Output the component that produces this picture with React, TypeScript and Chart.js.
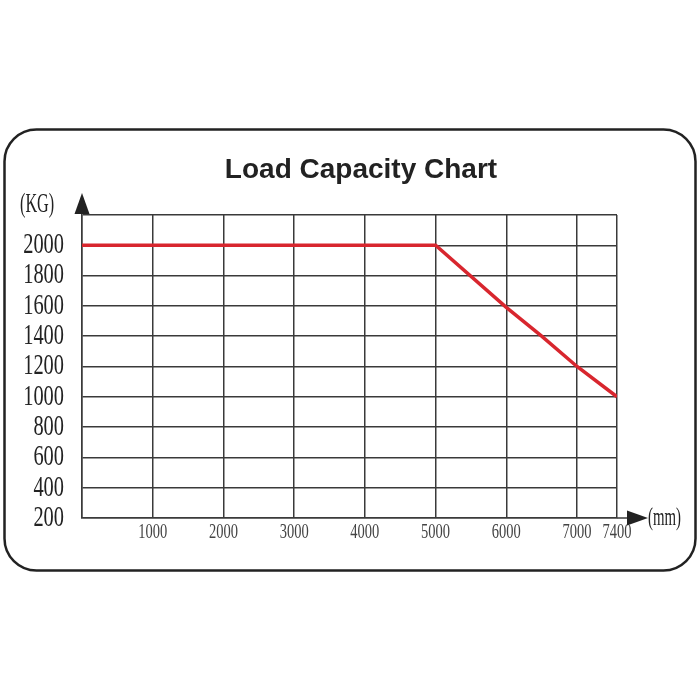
import { useEffect, useRef } from 'react';
import { Chart, registerables, LinearScale } from 'chart.js';

// ---- data ----
const TITLE = 'Load Capacity Chart';
const Y_UNIT = '(KG)';
const X_UNIT = '(mm)';
const REACH_MM = [0, 5000, 6000, 6500, 7000, 7400];
const CAPACITY_KG = [2000, 2000, 1590, 1400, 1200, 1000];
const X_TICKS = [0, 1000, 2000, 3000, 4000, 5000, 6000, 7000, 7400];
const X_TICK_LABELS = ['', '1000', '2000', '3000', '4000', '5000', '6000', '7000', '7400'];
const Y_TICKS = [200, 400, 600, 800, 1000, 1200, 1400, 1600, 1800, 2000, 2200];
const Y_TICK_LABELS = ['200', '400', '600', '800', '1000', '1200', '1400', '1600', '1800', '2000', ''];

// ---- styles ----
const GRID = '#3a3a3a';
const LINE_RED = '#d8262e';
const SERIF = '"Liberation Serif", "Times New Roman", serif';
const SANS = '"Liberation Sans", Arial, sans-serif';
const CONDENSE: Record<string, number> = { x: 0.69, y: 0.68 };
// the drawing widens the last (7000-7400) interval of the reach axis
const X_BREAK = 7000;
const X_STRETCH = 1.414;
const warp = (v: number) => (v <= X_BREAK ? v : X_BREAK + (v - X_BREAK) * X_STRETCH);
const unwarp = (u: number) => (u <= X_BREAK ? u : X_BREAK + (u - X_BREAK) / X_STRETCH);

const Base: any = LinearScale;

class CondensedLinearScale extends Base {
  static id = 'condensedLinear';
  static defaults = Base.defaults;
  drawLabels(chartArea: any) {
    const self: any = this;
    const optTicks = self.options.ticks;
    if (!optTicks.display) return;
    const ctx = self.ctx;
    const sx = CONDENSE[self.axis] ?? 1;
    const items = self.getLabelItems(chartArea);
    for (const item of items) {
      const o = item.options;
      ctx.save();
      ctx.translate(o.translation[0], o.translation[1]);
      ctx.rotate(o.rotation || 0);
      ctx.scale(sx, 1);
      ctx.font = item.font.string;
      ctx.fillStyle = o.color;
      ctx.textAlign = o.textAlign;
      ctx.textBaseline = o.textBaseline;
      ctx.fillText(String(item.label), 0, item.textOffset);
      ctx.restore();
    }
  }
}

class WarpedLinearScale extends CondensedLinearScale {
  static id = 'warpedLinear';
  static defaults = Base.defaults;
  configure() {
    super.configure();
    const self: any = this;
    self._endValue = warp(self.max);
    self._valueRange = self._endValue - self._startValue;
  }
  getPixelForValue(value: any) {
    const self: any = this;
    if (value === null || value === undefined) return NaN;
    return self.getPixelForDecimal((warp(value) - self._startValue) / self._valueRange);
  }
  getValueForPixel(pixel: number) {
    const self: any = this;
    return unwarp(self._startValue + self.getDecimalForPixel(pixel) * self._valueRange);
  }
}

Chart.register(...registerables, CondensedLinearScale as any, WarpedLinearScale as any);

function condensedText(ctx: CanvasRenderingContext2D, text: string, x: number, y: number, font: string, sx: number) {
  ctx.save();
  ctx.translate(x, y);
  ctx.scale(sx, 1);
  ctx.font = font;
  ctx.textAlign = 'left';
  ctx.textBaseline = 'middle';
  ctx.fillText(text, 0, 0);
  ctx.restore();
}

const decor = {
  id: 'decor',
  beforeDraw(chart: any) {
    const ctx = chart.ctx;
    ctx.save();
    ctx.fillStyle = '#ffffff';
    ctx.fillRect(0, 0, chart.width, chart.height);
    ctx.beginPath();
    ctx.roundRect(4.5, 129.5, 691, 441, 32);
    ctx.lineWidth = 2.5;
    ctx.strokeStyle = '#222';
    ctx.stroke();
    ctx.restore();
  },
  afterDraw(chart: any) {
    const ctx = chart.ctx;
    const a = chart.chartArea;
    ctx.save();
    ctx.fillStyle = '#222';
    ctx.font = `bold 28px ${SANS}`;
    ctx.textAlign = 'center';
    ctx.textBaseline = 'alphabetic';
    ctx.fillText(TITLE, 361, 178);

    // y axis arrow
    ctx.beginPath();
    ctx.moveTo(a.left, a.top - 22);
    ctx.lineTo(a.left - 7.5, a.top - 1);
    ctx.lineTo(a.left + 7.5, a.top - 1);
    ctx.closePath();
    ctx.fill();

    // x axis extension and arrow
    ctx.strokeStyle = GRID;
    ctx.lineWidth = 1.5;
    ctx.beginPath();
    ctx.moveTo(a.right, a.bottom);
    ctx.lineTo(a.right + 12, a.bottom);
    ctx.stroke();
    ctx.beginPath();
    ctx.moveTo(a.right + 10, a.bottom - 7.5);
    ctx.lineTo(a.right + 31, a.bottom);
    ctx.lineTo(a.right + 10, a.bottom + 7.5);
    ctx.closePath();
    ctx.fill();

    ctx.fillStyle = '#222';
    condensedText(ctx, Y_UNIT, 20, 205, `27px ${SERIF}`, 0.6);
    condensedText(ctx, X_UNIT, a.right + 31, a.bottom, `26px ${SERIF}`, 0.57);
    ctx.restore();
  },
};

export default function App() {
  const canvasRef = useRef<HTMLCanvasElement | null>(null);

  useEffect(() => {
    if (!canvasRef.current) return;
    const chart = new Chart(canvasRef.current, {
      type: 'line',
      data: {
        datasets: [
          {
            label: 'Load capacity',
            data: REACH_MM.map((x, i) => ({ x, y: CAPACITY_KG[i] })),
            borderColor: LINE_RED,
            backgroundColor: LINE_RED,
            borderWidth: 3.5,
            pointRadius: 0,
            tension: 0,
            fill: false,
          },
        ],
      },
      options: {
        animation: false,
        responsive: true,
        maintainAspectRatio: false,
        layout: { padding: { top: 215, right: 83, bottom: 0, left: 0 } },
        plugins: {
          legend: { display: false },
          tooltip: { enabled: false },
          title: { display: false },
        },
        scales: {
          x: {
            type: 'warpedLinear' as any,
            min: 0,
            max: 7400,
            afterBuildTicks: (s: any) => {
              s.ticks = X_TICKS.map((value) => ({ value }));
            },
            afterFit: (s: any) => {
              s.height = 182;
            },
            grid: { color: GRID, lineWidth: 1.5, drawTicks: false },
            border: { color: GRID, width: 1.5 },
            ticks: {
              autoSkip: false,
              maxRotation: 0,
              minRotation: 0,
              padding: 2,
              color: '#444',
              font: { family: SERIF, size: 21 },
              callback: (_v: any, i: number) => X_TICK_LABELS[i],
            },
          },
          y: {
            type: 'condensedLinear' as any,
            min: 200,
            max: 2200,
            afterBuildTicks: (s: any) => {
              s.ticks = Y_TICKS.map((value) => ({ value }));
            },
            afterFit: (s: any) => {
              s.width = 82;
            },
            grid: { color: GRID, lineWidth: 1.5, drawTicks: false },
            border: { color: GRID, width: 1.5 },
            ticks: {
              autoSkip: false,
              padding: 18,
              color: '#222',
              font: { family: SERIF, size: 30 },
              callback: (_v: any, i: number) => Y_TICK_LABELS[i],
            },
          },
        },
      },
      plugins: [decor],
    } as any);
    return () => chart.destroy();
  }, []);

  return (
    <div style={{ position: 'absolute', left: 0, top: 0, width: 700, height: 700, background: '#fff' }}>
      <canvas ref={canvasRef} />
    </div>
  );
}
